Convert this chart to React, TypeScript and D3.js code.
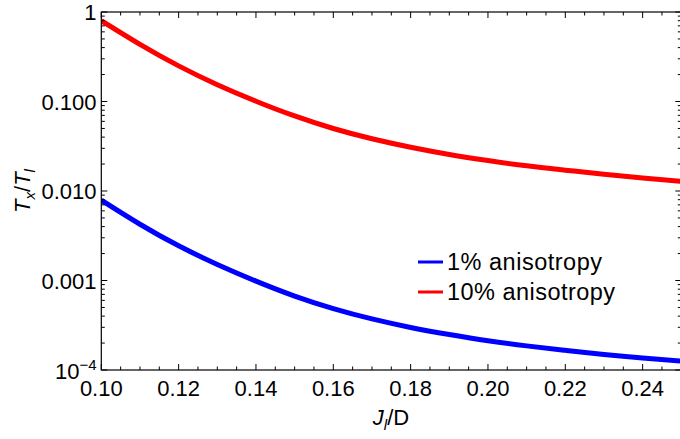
import React from "react";
import * as d3 from "d3";

const xValues = [0.10, 0.11, 0.12, 0.13, 0.14, 0.15, 0.16, 0.17, 0.18, 0.19, 0.20, 0.21, 0.22, 0.23, 0.24, 0.25];
const tenPercent = [0.800, 0.435, 0.250, 0.154, 0.1007, 0.0689, 0.0499, 0.0383, 0.0308, 0.0256, 0.0219, 0.0191, 0.0171, 0.0154, 0.0140, 0.0128];
const onePercent = [0.00789, 0.00425, 0.00244, 0.00151, 0.000984, 0.000670, 0.000485, 0.000372, 0.000299, 0.000249, 0.000212, 0.000186, 0.000166, 0.000149, 0.000136, 0.000126];

const xTickValues = [0.10, 0.12, 0.14, 0.16, 0.18, 0.20, 0.22, 0.24];
const xTickLabels = ["0.10", "0.12", "0.14", "0.16", "0.18", "0.20", "0.22", "0.24"];
const yTickValues = [1, 0.1, 0.01, 0.001];
const yTickLabels = ["1", "0.100", "0.010", "0.001"];
const seriesNames = ["1% anisotropy", "10% anisotropy"];
const seriesColors = ["#0000ff", "#ff0000"];
const legendWidths = [155, 168];

const W = 680;
const H = 439;
const left = 101.3;
const right = 681.3;
const top = 12;
const bottom = 370;
const FONT = "'Liberation Sans', Arial, sans-serif";
const FS = 22;

export default function App() {
  const x = d3.scaleLinear().domain([0.10, 0.25]).range([left, right]);
  const y = d3.scaleLog().domain([1e-4, 1]).range([bottom, top]);

  const line = d3
    .line<number>()
    .x((_, i) => x(xValues[i]))
    .y((d) => y(d))
    .curve(d3.curveNatural);

  const xMinor: number[] = d3.range(0.10, 0.2501, 0.005).map((v) => +v.toFixed(4));
  const yMinor: number[] = [];
  [1e-4, 1e-3, 1e-2, 1e-1].forEach((dec) => {
    for (let k = 2; k <= 9; k++) yMinor.push(dec * k);
  });

  const majLen = 6;
  const minLen = 3.5;

  return (
    <svg
      width={W}
      height={H}
      style={{ position: "absolute", left: 0, top: 0, background: "#fff" }}
      fontFamily={FONT}
    >
      <defs>
        <clipPath id="plotclip">
          <rect x={left} y={top - 5} width={right - left} height={bottom - top + 10} />
        </clipPath>
      </defs>
      <g clipPath="url(#plotclip)">
        <path d={line(onePercent) || ""} fill="none" stroke={seriesColors[0]} strokeWidth={5} />
        <path d={line(tenPercent) || ""} fill="none" stroke={seriesColors[1]} strokeWidth={5} />
      </g>
      <rect x={left} y={top} width={right - left} height={bottom - top} fill="none" stroke="#000" strokeWidth={1.2} />
      {xMinor.map((v, i) => {
        const isMajor = xTickValues.some((t) => Math.abs(t - v) < 1e-6);
        const len = isMajor ? majLen : minLen;
        return (
          <g key={"xt" + i} stroke="#000" strokeWidth={1}>
            <line x1={x(v)} x2={x(v)} y1={bottom} y2={bottom - len} />
            <line x1={x(v)} x2={x(v)} y1={top} y2={top + len} />
          </g>
        );
      })}
      {xTickValues.map((v, i) => (
        <text key={"xl" + i} x={x(v)} y={396} textAnchor="middle" fontSize={FS} fill="#000">
          {xTickLabels[i]}
        </text>
      ))}
      {[...yTickValues, 1e-4].map((v, i) => (
        <g key={"ytm" + i} stroke="#000" strokeWidth={1}>
          <line x1={left} x2={left + majLen} y1={y(v)} y2={y(v)} />
          <line x1={right} x2={right - majLen} y1={y(v)} y2={y(v)} />
        </g>
      ))}
      {yMinor.map((v, i) => (
        <g key={"ytn" + i} stroke="#000" strokeWidth={1}>
          <line x1={left} x2={left + minLen} y1={y(v)} y2={y(v)} />
          <line x1={right} x2={right - minLen} y1={y(v)} y2={y(v)} />
        </g>
      ))}
      {yTickValues.map((v, i) => (
        <text key={"yl" + i} x={96.5} y={y(v) + 8} textAnchor="end" fontSize={FS} fill="#000">
          {yTickLabels[i]}
        </text>
      ))}
      <text x={96.5} y={y(1e-4) + 9} textAnchor="end" fontSize={FS} fill="#000">
        10
        <tspan fontSize={15} dy={-9}>−4</tspan>
      </text>
      <text x={391} y={425} textAnchor="middle" fontSize={FS} fill="#000">
        <tspan fontStyle="italic">J</tspan>
        <tspan fontStyle="italic" fontSize={15} dy={5}>l</tspan>
        <tspan dy={-5}>/D</tspan>
      </text>
      <text
        transform={`translate(30, ${(top + bottom) / 2}) rotate(-90)`}
        textAnchor="middle"
        fontSize={FS}
        fill="#000"
      >
        <tspan fontStyle="italic">T</tspan>
        <tspan fontStyle="italic" fontSize={15} dy={5}>x</tspan>
        <tspan dy={-5}>/</tspan>
        <tspan fontStyle="italic">T</tspan>
        <tspan fontStyle="italic" fontSize={15} dy={5}>l</tspan>
      </text>
      {seriesNames.map((name, i) => (
        <g key={"lg" + i}>
          <line x1={418} x2={443} y1={262 + i * 30} y2={262 + i * 30} stroke={seriesColors[i]} strokeWidth={3} />
          <text
            x={447}
            y={270 + i * 30}
            fontSize={23.5}
            fill="#000"
            textLength={legendWidths[i]}
            lengthAdjust="spacing"
          >
            {name}
          </text>
        </g>
      ))}
    </svg>
  );
}
